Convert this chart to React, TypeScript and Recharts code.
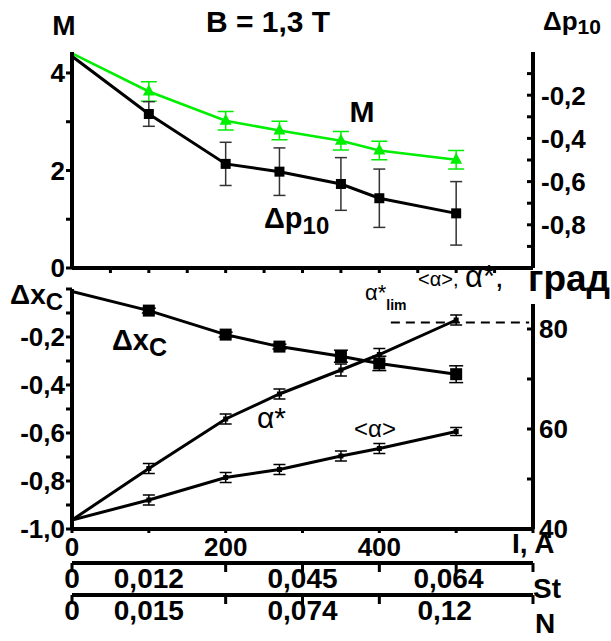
import React from 'react';
import { ComposedChart, Line, XAxis, YAxis, ErrorBar, ReferenceLine } from 'recharts';

// discharge current I, A
const current = [0, 100, 200, 270, 350, 400, 500];

// upper panel
const machM = [4.4, 3.62, 3.02, 2.82, 2.61, 2.41, 2.22];
const machErr = [0, 0.2, 0.19, 0.19, 0.19, 0.19, 0.19];
const dp10 = [-0.02, -0.287, -0.518, -0.554, -0.611, -0.677, -0.747];
const dp10Err = [0, 0.057, 0.1, 0.11, 0.122, 0.135, 0.147];

// lower panel
const dxc = [-0.01, -0.09, -0.19, -0.24, -0.28, -0.31, -0.355];
const dxcErr = [0, 0.01, 0.01, 0.01, 0.025, 0.03, 0.035];
const alphaStar = [41.8, 52.1, 62, 67, 71.8, 74.9, 81.8];
const alphaStarErr = [0, 1, 1, 1, 1.2, 1.2, 1];
const alphaMean = [41.8, 45.8, 50.3, 51.9, 54.6, 56.1, 59.5];
const alphaMeanErr = [0, 1, 1, 1, 1, 1, 0.8];
const alphaLim = 81.3;

// ticks
const topXTicks = [50, 100, 150, 200, 250, 300, 350, 400, 450, 500, 550];
const mTicks = [0, 1, 2, 3, 4];
const mLabels = [0, 2, 4];
const dpTicks = [-0.9, -0.8, -0.7, -0.6, -0.5, -0.4, -0.3, -0.2, -0.1];
const dpLabels = [-0.8, -0.6, -0.4, -0.2];
const iTicks = [0, 100, 200, 300, 400, 500, 600];
const iLabels = [0, 200, 400];
const dxcTicks = [-1, -0.9, -0.8, -0.7, -0.6, -0.5, -0.4, -0.3, -0.2, -0.1, 0];
const dxcLabels = [-1, -0.8, -0.6, -0.4, -0.2];
const degTicks = [40, 50, 60, 70, 80];
const degLabels = [40, 60, 80];
const stMarks = [0, 200, 300, 400, 500, 600];
const stLabels = [
  { at: 0, text: '0' },
  { at: 100, text: '0,012' },
  { at: 300, text: '0,045' },
  { at: 490, text: '0,064' },
];
const nMarks = [0, 200, 300, 400, 600];
const nLabels = [
  { at: 0, text: '0' },
  { at: 100, text: '0,015' },
  { at: 300, text: '0,074' },
  { at: 485, text: '0,12' },
];

const topData = current.map((I, i) => ({ I, M: machM[i], mErr: machErr[i], dp: dp10[i], dpErr: dp10Err[i] }));
const lowData = current.map((I, i) => ({
  I,
  dxc: dxc[i],
  dxcErr: dxcErr[i],
  aStar: alphaStar[i],
  aStarErr: alphaStarErr[i],
  aMean: alphaMean[i],
  aMeanErr: alphaMeanErr[i],
}));

const FONT = '"Liberation Sans", Arial, sans-serif';
const GREEN = '#00ee00';
const has = (arr: number[], v: number) => arr.some((a) => Math.abs(a - Number(v)) < 1e-6);
const comma = (v: number) => Number(v).toFixed(1).replace('.', ',');
const plain = (v: number) => String(v);

const leftTick = (labels: number[], fmt: (v: number) => string, fs: number) => (p: any) => {
  const { x, y, payload } = p;
  const v = payload.value;
  return (
    <g>
      <line x1={x - 6} x2={x} y1={y} y2={y} stroke="#000" strokeWidth={3} />
      {has(labels, v) && (
        <text x={x - 7} y={y + fs * 0.36} textAnchor="end" fontSize={fs} fontWeight="bold" fontFamily={FONT} fill="#000">
          {fmt(v)}
        </text>
      )}
    </g>
  );
};

const rightTick = (labels: number[], fmt: (v: number) => string, fs: number, gap: number) => (p: any) => {
  const { x, y, payload } = p;
  const v = payload.value;
  return (
    <g>
      <line x1={x - 6} x2={x} y1={y} y2={y} stroke="#000" strokeWidth={3} />
      {has(labels, v) && (
        <text x={x + gap} y={y + fs * 0.36} textAnchor="start" fontSize={fs} fontWeight="bold" fontFamily={FONT} fill="#000">
          {fmt(v)}
        </text>
      )}
    </g>
  );
};

const bottomTick = (marks: number[], labels: { at: number; text: string }[], len: number, fs: number, base: number) => (p: any) => {
  const { x, y, payload } = p;
  const v = payload.value;
  const lab = labels.find((l) => Math.abs(l.at - v) < 1e-6);
  return (
    <g>
      {has(marks, v) && <line x1={x} x2={x} y1={y} y2={y + len} stroke="#000" strokeWidth={3} />}
      {lab && (
        <text x={x} y={y + base} textAnchor="middle" fontSize={fs} fontWeight="bold" fontFamily={FONT} fill="#000">
          {lab.text}
        </text>
      )}
    </g>
  );
};

const squareDot = (size: number) => (p: any) => {
  const { cx, cy, index } = p;
  if (index === 0 || cx == null) return <g key={`s${index}`} />;
  return <rect key={`s${index}`} x={cx - size / 2} y={cy - size / 2} width={size} height={size} fill="#000" />;
};

const triangleDot = (p: any) => {
  const { cx, cy, index } = p;
  if (index === 0 || cx == null) return <g key={`t${index}`} />;
  return <polygon key={`t${index}`} points={`${cx},${cy - 7} ${cx + 6},${cy + 4} ${cx - 6},${cy + 4}`} fill={GREEN} />;
};

const axisLine = { stroke: '#000', strokeWidth: 4 };
const iLabelObjs = iLabels.map((v) => ({ at: v, text: String(v) }));
const stTickVals = [0, 100, 200, 300, 400, 490, 500, 600];
const nTickVals = [0, 100, 200, 300, 400, 485, 600];

export default function App() {
  return (
    <div style={{ position: 'absolute', left: 0, top: 0, width: 611, height: 641, background: '#fff' }}>
      {/* lower panel goes underneath, the upper chart is stacked on top of it */}
      <div style={{ position: 'absolute', left: 0, top: 0 }}>
        <ComposedChart width={611} height={641} data={lowData} margin={{ top: 289, right: 18, bottom: 6, left: 12 }}>
          <XAxis
            xAxisId="x1"
            dataKey="I"
            type="number"
            domain={[0, 600]}
            allowDataOverflow
            ticks={iTicks}
            interval={0}
            height={34}
            tickSize={0}
            tickMargin={0}
            tickLine={false}
            axisLine={axisLine}
            tick={bottomTick(iTicks, iLabelObjs, 4, 26, 27)}
          />
          <XAxis
            xAxisId="x2"
            dataKey="I"
            type="number"
            domain={[0, 600]}
            allowDataOverflow
            ticks={stTickVals}
            interval={0}
            height={32}
            tickSize={0}
            tickMargin={0}
            tickLine={false}
            axisLine={axisLine}
            tick={bottomTick(stMarks, stLabels, 9, 28, 25)}
          />
          <XAxis
            xAxisId="x3"
            dataKey="I"
            type="number"
            domain={[0, 600]}
            allowDataOverflow
            ticks={nTickVals}
            interval={0}
            height={40}
            tickSize={0}
            tickMargin={0}
            tickLine={false}
            axisLine={axisLine}
            tick={bottomTick(nMarks, nLabels, 9, 28, 25)}
          />
          <YAxis
            yAxisId="dxc"
            domain={[-1, 0]}
            allowDataOverflow
            ticks={dxcTicks}
            interval={0}
            width={60}
            tickSize={0}
            tickMargin={0}
            tickLine={false}
            axisLine={axisLine}
            tick={leftTick(dxcLabels, comma, 26)}
          />
          <YAxis
            yAxisId="deg"
            orientation="right"
            domain={[40, 88]}
            allowDataOverflow
            ticks={degTicks}
            interval={0}
            width={60}
            tickSize={0}
            tickMargin={0}
            tickLine={false}
            axisLine={false}
            tick={rightTick(degLabels, plain, 26, 6)}
          />
          <ReferenceLine
            xAxisId="x1"
            yAxisId="deg"
            segment={[{ x: 600, y: 40 }, { x: 600, y: 85 }]}
            stroke="#000"
            strokeWidth={4}
            ifOverflow="visible"
          />
          <ReferenceLine
            xAxisId="x1"
            yAxisId="deg"
            segment={[{ x: 415, y: alphaLim }, { x: 595, y: alphaLim }]}
            stroke="#000"
            strokeWidth={2}
            strokeDasharray="9 6"
            ifOverflow="visible"
          />
          <Line xAxisId="x1" yAxisId="dxc" dataKey="dxc" stroke="#000" strokeWidth={3} dot={squareDot(12)} isAnimationActive={false}>
            <ErrorBar dataKey="dxcErr" width={7} stroke="#000" strokeWidth={1.5} direction="y" />
          </Line>
          <Line xAxisId="x1" yAxisId="deg" dataKey="aStar" stroke="#000" strokeWidth={3} dot={squareDot(5)} isAnimationActive={false}>
            <ErrorBar dataKey="aStarErr" width={6} stroke="#000" strokeWidth={1.5} direction="y" />
          </Line>
          <Line xAxisId="x1" yAxisId="deg" dataKey="aMean" stroke="#000" strokeWidth={3} dot={squareDot(5)} isAnimationActive={false}>
            <ErrorBar dataKey="aMeanErr" width={6} stroke="#000" strokeWidth={1.5} direction="y" />
          </Line>
        </ComposedChart>
      </div>

      <div style={{ position: 'absolute', left: 0, top: 0 }}>
        <ComposedChart width={611} height={641} data={topData} margin={{ top: 52, right: 18, bottom: 363, left: 12 }}>
          <XAxis
            dataKey="I"
            type="number"
            domain={[0, 600]}
            allowDataOverflow
            ticks={topXTicks}
            interval={0}
            height={10}
            tickSize={0}
            tickMargin={0}
            tickLine={false}
            axisLine={axisLine}
            tick={bottomTick(topXTicks, [], 5, 10, 0)}
          />
          <YAxis
            yAxisId="M"
            domain={[0, 4.43]}
            allowDataOverflow
            ticks={mTicks}
            interval={0}
            width={60}
            tickSize={0}
            tickMargin={0}
            tickLine={false}
            axisLine={axisLine}
            tick={leftTick(mLabels, plain, 26)}
          />
          <YAxis
            yAxisId="dp"
            orientation="right"
            domain={[-1, 0]}
            allowDataOverflow
            ticks={dpTicks}
            interval={0}
            width={60}
            tickSize={0}
            tickMargin={0}
            tickLine={false}
            axisLine={axisLine}
            tick={rightTick(dpLabels, comma, 26, 8)}
          />
          <Line yAxisId="M" dataKey="M" stroke={GREEN} strokeWidth={2.5} dot={triangleDot} isAnimationActive={false}>
            <ErrorBar dataKey="mErr" width={8} stroke={GREEN} strokeWidth={1.5} direction="y" />
          </Line>
          <Line yAxisId="dp" dataKey="dp" stroke="#000" strokeWidth={3} dot={squareDot(10)} isAnimationActive={false}>
            <ErrorBar dataKey="dpErr" width={6} stroke="#333" strokeWidth={1.5} direction="y" />
          </Line>
        </ComposedChart>
      </div>

      <svg width={611} height={641} style={{ position: 'absolute', left: 0, top: 0, pointerEvents: 'none' }} fontFamily={FONT} fill="#000">
        <text x={64} y={35} textAnchor="middle" fontSize={28} fontWeight="bold">M</text>
        <text x={268} y={32} textAnchor="middle" fontSize={30} fontWeight="bold">B = 1,3 T</text>
        <text x={543} y={30} fontSize={26} fontWeight="bold">
          Δp<tspan fontSize={21} dy={4}>10</tspan>
        </text>
        <text x={362} y={122} textAnchor="middle" fontSize={30} fontWeight="bold">M</text>
        <text x={264} y={228} fontSize={29} fontWeight="bold">
          Δp<tspan fontSize={24} dy={6}>10</tspan>
        </text>

        <text x={10} y={304} fontSize={28} fontWeight="bold">
          Δx<tspan fontSize={24} dy={6}>C</tspan>
        </text>
        <text x={112} y={350} fontSize={29} fontWeight="bold">
          Δx<tspan fontSize={25} dy={6}>C</tspan>
        </text>
        <text x={257} y={428} fontSize={30}>α*</text>
        <text x={354} y={437} fontSize={24}>&lt;α&gt;</text>
        <text x={365} y={300} fontSize={22}>
          α*<tspan fontSize={14} dy={10} fontWeight="bold">lim</tspan>
        </text>
        <text x={418} y={286} fontSize={20}>&lt;α&gt;,</text>
        <text x={465} y={287} fontSize={31}>α*,</text>
        <text x={528} y={291} fontSize={37} fontWeight="bold">град</text>
        <text x={512} y={553} fontSize={28} fontWeight="bold">I, A</text>
        <text x={533} y={598} fontSize={28} fontWeight="bold">St</text>
        <text x={535} y={633} fontSize={28} fontWeight="bold">N</text>
      </svg>
    </div>
  );
}
